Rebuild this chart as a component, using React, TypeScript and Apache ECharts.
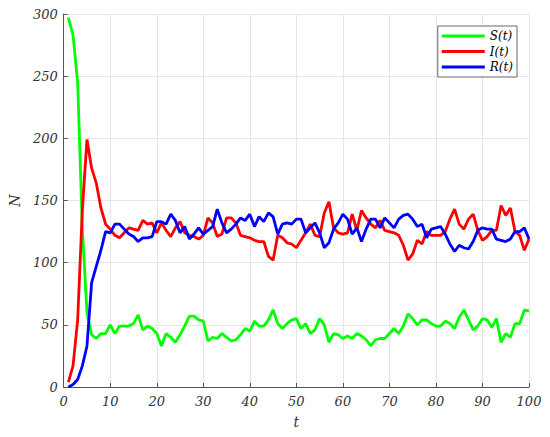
import React, { useEffect, useRef } from "react";
import * as echarts from "echarts";

const tValues: number[] = Array.from({ length: 100 }, (_, i) => i + 1);

const sValues: number[] = [
  297, 283, 245, 128, 60, 42, 39, 43, 43, 50,
  43, 49, 49, 49, 51, 58, 46, 49, 47, 43,
  33, 43, 40, 36, 42, 49, 57, 57, 54, 53,
  37, 40, 39, 43, 40, 37, 38, 42, 47, 45,
  53, 49, 49, 54, 62, 51, 47, 51, 54, 55,
  47, 51, 43, 46, 55, 50, 36, 43, 42, 39,
  41, 39, 43, 41, 38, 33, 38, 39, 39, 43,
  47, 43, 49, 59, 55, 50, 54, 54, 51, 49,
  49, 53, 51, 47, 56, 62, 54, 46, 49, 55,
  54, 48, 55, 36, 43, 40, 51, 51, 62, 61,
];

const iValues: number[] = [
  4, 17, 54, 142, 199, 176, 164, 144, 131, 127,
  122, 120, 124, 128, 127, 126, 134, 131, 132, 124,
  132, 126, 121, 128, 133, 124, 122, 121, 119, 122,
  136, 132, 121, 123, 136, 136, 132, 122, 121, 120,
  118, 117, 117, 105, 102, 122, 120, 116, 115, 112,
  118, 124, 131, 122, 121, 140, 149, 128, 124, 123,
  124, 139, 126, 142, 136, 131, 128, 134, 126, 125,
  124, 122, 114, 102, 107, 118, 115, 125, 122, 122,
  122, 125, 135, 143, 131, 127, 135, 139, 126, 118,
  121, 126, 126, 146, 138, 144, 125, 122, 110, 119,
];

const rValues: number[] = [
  0, 2, 6, 17, 33, 84, 97, 110, 125, 124,
  131, 131, 127, 123, 121, 117, 120, 120, 121, 133,
  133, 131, 139, 134, 124, 129, 119, 123, 128, 123,
  126, 129, 143, 132, 124, 127, 131, 136, 134, 139,
  129, 137, 133, 140, 137, 123, 131, 132, 131, 135,
  135, 124, 128, 132, 124, 112, 116, 127, 132, 139,
  135, 123, 128, 117, 127, 135, 135, 128, 136, 132,
  128, 135, 138, 139, 135, 129, 131, 120, 127, 128,
  129, 123, 115, 109, 114, 112, 111, 117, 126, 128,
  127, 127, 119, 118, 117, 119, 125, 125, 128, 119,
];

const seriesNames = ["S(t)", "I(t)", "R(t)"];
const seriesColors = ["#00ff00", "#ff0000", "#0000ff"];
const seriesData = [sValues, iValues, rValues];

const serif = "DejaVu Serif";

export default function App() {
  const ref = useRef<HTMLDivElement>(null);

  useEffect(() => {
    if (!ref.current) return;
    const chart = echarts.init(ref.current, undefined, { renderer: "svg" });
    const tickStyle = {
      fontFamily: serif,
      fontStyle: "italic" as const,
      fontSize: 13,
      color: "#333",
    };
    const nameStyle = { ...tickStyle, fontSize: 14 };
    chart.setOption({
      animation: false,
      backgroundColor: "#fff",
      grid: { left: 56, right: 21, top: 14, bottom: 50, containLabel: false },
      legend: {
        orient: "vertical",
        right: 33,
        top: 26,
        backgroundColor: "#fff",
        borderColor: "#666",
        borderWidth: 1,
        borderRadius: 0,
        padding: [3, 4, 3, 4],
        itemWidth: 43,
        itemHeight: 3,
        itemGap: 1.5,
        icon: "rect",
        textStyle: {
          fontFamily: serif,
          fontStyle: "italic",
          fontSize: 12,
          lineHeight: 14,
          color: "#000",
        },
        data: seriesNames,
      },
      xAxis: {
        type: "value",
        min: 0,
        max: 100,
        interval: 10,
        name: "t",
        nameLocation: "middle",
        nameGap: 28,
        nameTextStyle: nameStyle,
        axisLine: { show: true, lineStyle: { color: "#555", width: 1 } },
        axisTick: { show: true, inside: true, length: 4, lineStyle: { color: "#555" } },
        axisLabel: { ...tickStyle, margin: 8 },
        splitLine: { show: true, lineStyle: { color: "#e6e6e6", width: 1 } },
      },
      yAxis: {
        type: "value",
        min: 0,
        max: 300,
        interval: 50,
        name: "N",
        nameLocation: "middle",
        nameGap: 37,
        nameTextStyle: nameStyle,
        axisLine: { show: true, lineStyle: { color: "#555", width: 1 } },
        axisTick: { show: true, inside: true, length: 4, lineStyle: { color: "#555" } },
        axisLabel: { ...tickStyle, margin: 6 },
        splitLine: { show: true, lineStyle: { color: "#e6e6e6", width: 1 } },
      },
      series: seriesNames.map((name, k) => ({
        name,
        type: "line",
        showSymbol: false,
        symbol: "none",
        color: seriesColors[k],
        lineStyle: { color: seriesColors[k], width: 2.8 },
        data: tValues.map((t, i) => [t, seriesData[k][i]]),
      })),
    });
    return () => chart.dispose();
  }, []);

  return (
    <div
      ref={ref}
      style={{ position: "fixed", left: 0, top: 0, width: 550, height: 437 }}
    />
  );
}
